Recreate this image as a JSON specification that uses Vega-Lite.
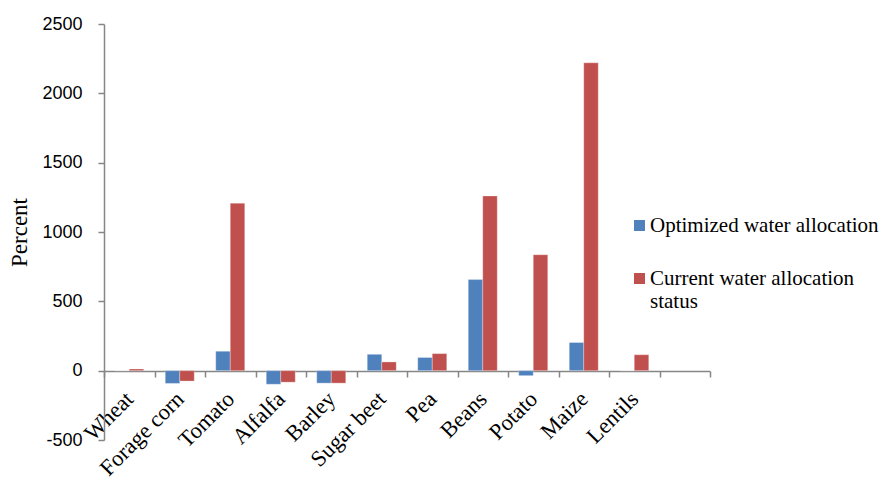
{
  "$schema": "https://vega.github.io/schema/vega-lite/v6.json",
  "autosize": {"type": "none"},
  "padding": {"left": 104, "top": 24, "right": 172, "bottom": 39},
  "width": 606,
  "height": 416,
  "background": "white",
  "config": {"view": {"stroke": null}},
  "data": {
    "values": [
      {"crop": "Wheat", "series": "Optimized water allocation", "value": 0},
      {"crop": "Wheat", "series": "Current water allocation status", "value": 12},
      {"crop": "Forage corn", "series": "Optimized water allocation", "value": -92},
      {"crop": "Forage corn", "series": "Current water allocation status", "value": -75},
      {"crop": "Tomato", "series": "Optimized water allocation", "value": 140},
      {"crop": "Tomato", "series": "Current water allocation status", "value": 1208},
      {"crop": "Alfalfa", "series": "Optimized water allocation", "value": -98},
      {"crop": "Alfalfa", "series": "Current water allocation status", "value": -83},
      {"crop": "Barley", "series": "Optimized water allocation", "value": -90},
      {"crop": "Barley", "series": "Current water allocation status", "value": -90},
      {"crop": "Sugar beet", "series": "Optimized water allocation", "value": 118},
      {"crop": "Sugar beet", "series": "Current water allocation status", "value": 63},
      {"crop": "Pea", "series": "Optimized water allocation", "value": 95},
      {"crop": "Pea", "series": "Current water allocation status", "value": 123},
      {"crop": "Beans", "series": "Optimized water allocation", "value": 657},
      {"crop": "Beans", "series": "Current water allocation status", "value": 1260},
      {"crop": "Potato", "series": "Optimized water allocation", "value": -36},
      {"crop": "Potato", "series": "Current water allocation status", "value": 836},
      {"crop": "Maize", "series": "Optimized water allocation", "value": 203},
      {"crop": "Maize", "series": "Current water allocation status", "value": 2220},
      {"crop": "Lentils", "series": "Optimized water allocation", "value": 0},
      {"crop": "Lentils", "series": "Current water allocation status", "value": 115}
    ]
  },
  "mark": {"type": "bar", "stroke": "white", "strokeOpacity": 0.5, "strokeWidth": 0.6},
  "encoding": {
    "x": {
      "field": "crop",
      "type": "nominal",
      "sort": null,
      "scale": {
        "domain": ["Wheat", "Forage corn", "Tomato", "Alfalfa", "Barley", "Sugar beet", "Pea", "Beans", "Potato", "Maize", "Lentils", " "],
        "paddingInner": 0,
        "paddingOuter": 0
      },
      "axis": {
        "title": null,
        "offset": -69,
        "tickBand": "extent",
        "domainColor": "#868686",
        "domainWidth": 1.5,
        "tickColor": "#868686",
        "tickWidth": 1.5,
        "tickSize": 6,
        "labelAngle": -45,
        "labelAlign": "right",
        "labelBaseline": "middle",
        "labelFont": "Liberation Serif",
        "labelFontSize": 22.5,
        "labelColor": "black",
        "labelPadding": 18,
        "labelOverlap": false
      }
    },
    "xOffset": {
      "field": "series",
      "type": "nominal",
      "scale": {
        "domain": ["Optimized water allocation", "Current water allocation status"],
        "paddingInner": 0,
        "paddingOuter": 0.74
      }
    },
    "y": {
      "field": "value",
      "type": "quantitative",
      "scale": {"domain": [-500, 2500], "nice": false, "zero": false},
      "axis": {
        "title": "Percent",
        "titleFont": "Liberation Serif",
        "titleFontSize": 23,
        "titleFontWeight": "normal",
        "titleColor": "black",
        "titlePadding": 10,
        "values": [-500, 0, 500, 1000, 1500, 2000, 2500],
        "labelExpr": "datum.value + ''",
        "grid": false,
        "domainColor": "#868686",
        "domainWidth": 1.5,
        "tickColor": "#868686",
        "tickWidth": 1.5,
        "tickSize": 6,
        "labelFont": "Liberation Sans",
        "labelFontSize": 18,
        "labelColor": "black",
        "labelPadding": 16
      }
    },
    "color": {
      "field": "series",
      "type": "nominal",
      "scale": {
        "domain": ["Optimized water allocation", "Current water allocation status"],
        "range": ["#4F81BD", "#C0504D"]
      },
      "legend": {
        "title": null,
        "orient": "none",
        "legendX": 525,
        "legendY": 191,
        "symbolType": "square",
        "symbolSize": 120,
        "symbolStrokeWidth": 0,
        "labelFont": "Liberation Serif",
        "labelFontSize": 21,
        "labelColor": "black",
        "labelOffset": 0,
        "labelLimit": 300,
        "rowPadding": 31,
        "labelExpr": "datum.label == 'Current water allocation status' ? ['Current water allocation', 'status'] : datum.label"
      }
    }
  }
}
